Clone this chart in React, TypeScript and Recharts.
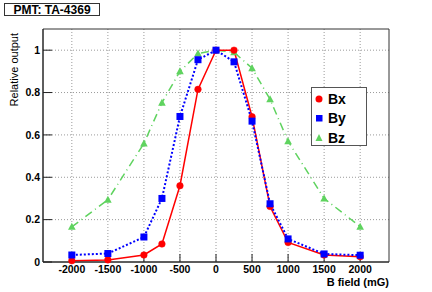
import {
  LineChart,
  Line,
  XAxis,
  YAxis,
  CartesianGrid,
  ReferenceArea,
  Legend,
} from "recharts";

const fieldValues = [-2000, -1500, -1000, -750, -500, -250, 0, 250, 500, 750, 1000, 1500, 2000];
const bxValues = [0.006, 0.01, 0.033, 0.085, 0.36, 0.815, 1.0, 1.0, 0.686, 0.262, 0.092, 0.033, 0.025];
const byValues = [0.033, 0.04, 0.118, 0.3, 0.687, 0.955, 1.0, 0.945, 0.665, 0.275, 0.109, 0.038, 0.032];
const bzValues = [0.166, 0.294, 0.56, 0.752, 0.9, 0.984, 1.0, 0.99, 0.915, 0.768, 0.57, 0.3, 0.167];

const xMajorTicks = [-2000, -1500, -1000, -500, 0, 500, 1000, 1500, 2000];
const xMinorTicks = [
  -2400, -2300, -2200, -2100, -2000, -1900, -1800, -1700, -1600, -1500, -1400, -1300,
  -1200, -1100, -1000, -900, -800, -700, -600, -500, -400, -300, -200, -100, 0, 100,
  200, 300, 400, 500, 600, 700, 800, 900, 1000, 1100, 1200, 1300, 1400, 1500, 1600,
  1700, 1800, 1900, 2000, 2100, 2200, 2300, 2400,
];
const yMajorTicks = [0, 0.2, 0.4, 0.6, 0.8, 1];
const yMinorTicks = [0, 0.05, 0.1, 0.15, 0.2, 0.25, 0.3, 0.35, 0.4, 0.45, 0.5, 0.55, 0.6, 0.65, 0.7, 0.75, 0.8, 0.85, 0.9, 0.95, 1, 1.05, 1.1];

const RED = "#ff0000";
const BLUE = "#0000ff";
const GREEN = "#5fd35f";
const FONT = "'Liberation Sans', Arial, sans-serif";

const data = fieldValues.map((b, i) => ({
  b,
  bx: bxValues[i],
  by: byValues[i],
  bz: bzValues[i],
}));

const SquareDot = (props: any) => {
  const { cx, cy, index } = props;
  return <rect key={`sq-${index}`} x={cx - 3.5} y={cy - 3.5} width={7} height={7} fill={BLUE} />;
};

const TriangleDot = (props: any) => {
  const { cx, cy, index } = props;
  return (
    <polygon
      key={`tr-${index}`}
      points={`${cx},${cy - 4} ${cx - 3.8},${cy + 3} ${cx + 3.8},${cy + 3}`}
      fill={GREEN}
    />
  );
};

const legendRows = [
  { name: "Bx", color: RED, shape: "circle" },
  { name: "By", color: BLUE, shape: "square" },
  { name: "Bz", color: GREEN, shape: "triangle" },
];

function LegendBox() {
  return (
    <div
      style={{
        width: 56,
        height: 59,
        boxSizing: "border-box",
        border: "1px solid #555",
        background: "#fff",
        fontFamily: FONT,
        fontWeight: "bold",
        fontSize: 14,
        paddingTop: 1,
      }}
    >
      {legendRows.map((r) => (
        <div key={r.name} style={{ height: 19.5, display: "flex", alignItems: "center" }}>
          <svg width={14} height={10} style={{ marginLeft: 2 }}>
            {r.shape === "circle" && <circle cx={5} cy={5} r={3.5} fill={r.color} />}
            {r.shape === "square" && <rect x={2} y={2} width={6.5} height={6.5} fill={r.color} />}
            {r.shape === "triangle" && <polygon points="5,1 1.5,8 8.5,8" fill={r.color} />}
          </svg>
          <span>{r.name}</span>
        </div>
      ))}
    </div>
  );
}

export default function App() {
  return (
    <div style={{ position: "absolute", left: 0, top: 0, width: 432, height: 292, background: "#fff" }}>
      <LineChart
        width={432}
        height={292}
        data={data}
        margin={{ top: 29, right: 43, left: 8, bottom: 0 }}
      >
        <CartesianGrid
          xAxisId="main"
          yAxisId="main"
          stroke="#9a9a9a"
          strokeDasharray="1 2"
          horizontalValues={[0.2, 0.4, 0.6, 0.8, 1]}
          verticalValues={xMajorTicks}
        />
        <XAxis
          xAxisId="minor"
          dataKey="b"
          type="number"
          domain={[-2400, 2400]}
          ticks={xMinorTicks}
          interval={0}
          tick={false}
          axisLine={false}
          tickSize={-4}
          height={0}
          stroke="#222"
        />
        <XAxis
          xAxisId="main"
          dataKey="b"
          type="number"
          domain={[-2400, 2400]}
          ticks={xMajorTicks}
          interval={0}
          height={30}
          tickSize={-8}
          tickMargin={12}
          stroke="#222"
          tick={{ fill: "#000", fontSize: 10.5, fontWeight: "bold", fontFamily: FONT }}
          label={{
            content: (p: any) => {
              const vb = p.viewBox;
              return (
                <text
                  x={vb.x + vb.width}
                  y={vb.y + 24}
                  textAnchor="end"
                  fontSize={11}
                  fontWeight="bold"
                  fontFamily={FONT}
                  fill="#000"
                >
                  B field (mG)
                </text>
              );
            },
          }}
        />
        <YAxis
          yAxisId="minor"
          type="number"
          domain={[0, 1.1]}
          ticks={yMinorTicks}
          interval={0}
          tick={false}
          axisLine={false}
          tickSize={-5}
          width={0}
          stroke="#222"
        />
        <YAxis
          yAxisId="main"
          type="number"
          domain={[0, 1.1]}
          ticks={yMajorTicks}
          interval={0}
          width={35}
          tickSize={-9}
          tickMargin={12}
          stroke="#222"
          tick={{ fill: "#000", fontSize: 10.5, fontWeight: "bold", fontFamily: FONT }}
          label={{
            content: (p: any) => {
              const vb = p.viewBox;
              const x = vb.x + 10;
              const y = vb.y + 4;
              return (
                <text
                  x={x}
                  y={y}
                  transform={`rotate(-90 ${x} ${y})`}
                  textAnchor="end"
                  fontSize={11}
                  fontFamily={FONT}
                  fill="#000"
                >
                  Relative output
                </text>
              );
            },
          }}
        />
        <ReferenceArea
          xAxisId="main"
          yAxisId="main"
          x1={-2400}
          x2={2400}
          y1={0}
          y2={1.1}
          fill="none"
          stroke="#333"
          strokeWidth={1}
          ifOverflow="visible"
        />
        <Line
          xAxisId="main"
          yAxisId="main"
          dataKey="bz"
          name="Bz"
          stroke={GREEN}
          strokeWidth={1.5}
          strokeDasharray="8 4 1 4"
          dot={TriangleDot}
          activeDot={false}
          isAnimationActive={false}
        />
        <Line
          xAxisId="main"
          yAxisId="main"
          dataKey="bx"
          name="Bx"
          stroke={RED}
          strokeWidth={1.5}
          dot={{ r: 3.3, fill: RED, stroke: RED, strokeWidth: 0.5 }}
          activeDot={false}
          isAnimationActive={false}
        />
        <Line
          xAxisId="main"
          yAxisId="main"
          dataKey="by"
          name="By"
          stroke={BLUE}
          strokeWidth={2}
          strokeDasharray="2 2"
          dot={SquareDot}
          activeDot={false}
          isAnimationActive={false}
        />
        <Legend
          layout="vertical"
          align="center"
          verticalAlign="middle"
          wrapperStyle={{ left: 311, top: 87, width: 56 }}
          content={() => <LegendBox />}
        />
      </LineChart>
      <div
        style={{
          position: "absolute",
          left: 4,
          top: 3,
          width: 96,
          height: 13,
          boxSizing: "border-box",
          border: "1px solid #333",
          fontFamily: FONT,
          fontWeight: "bold",
          fontSize: 12,
          display: "flex",
          alignItems: "center",
          justifyContent: "center",
          background: "#fff",
        }}
      >
        PMT: TA-4369
      </div>
    </div>
  );
}
